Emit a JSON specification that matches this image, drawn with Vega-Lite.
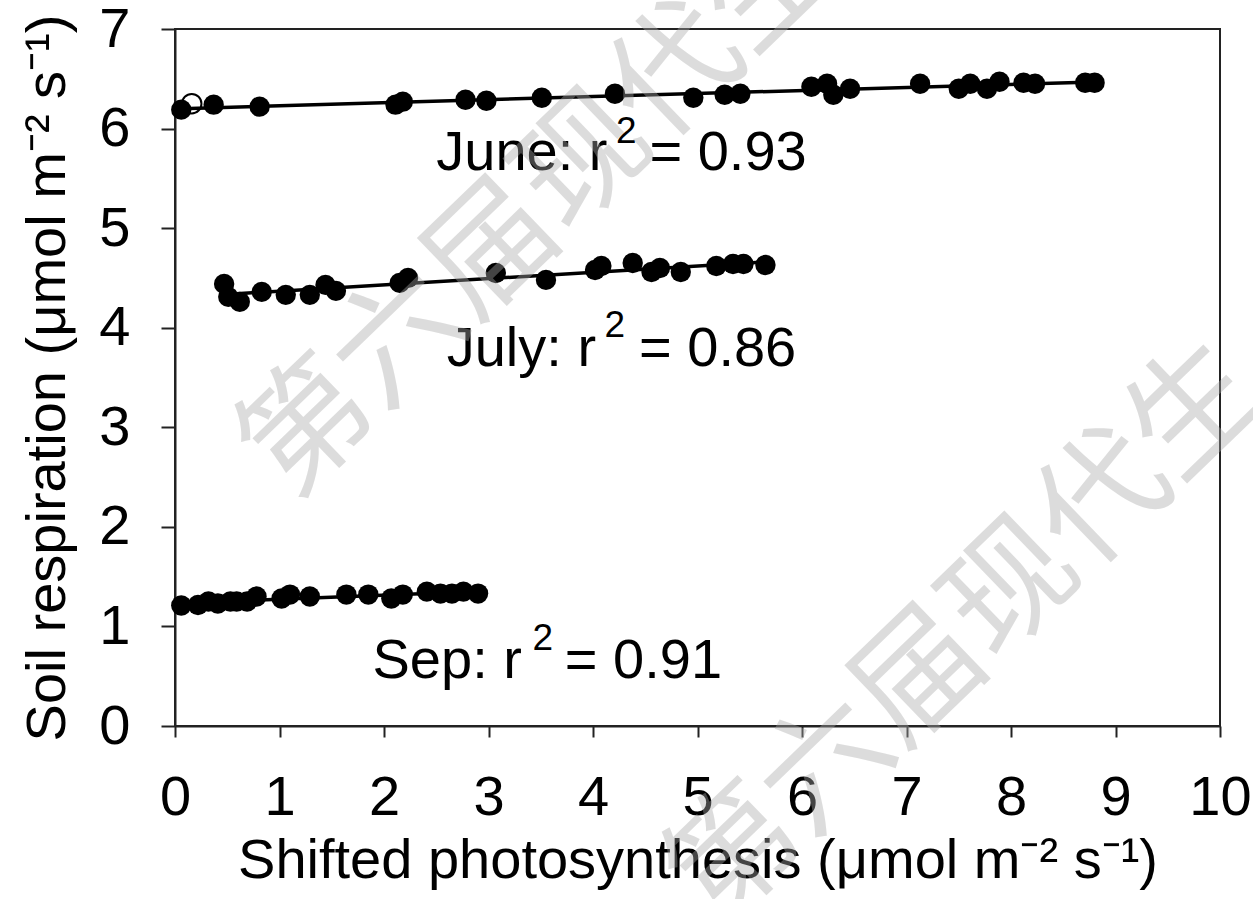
{
  "$schema": "https://vega.github.io/schema/vega-lite/v6.json",
  "width": 1045,
  "height": 697,
  "autosize": {"type": "none"},
  "padding": {"left": 175, "top": 29, "right": 33, "bottom": 173},
  "background": "white",
  "config": {
    "view": {"stroke": "#222", "strokeWidth": 2},
    "font": "Liberation Sans",
    "axis": {
      "grid": false,
      "domainColor": "#222",
      "domainWidth": 2,
      "tickColor": "#222",
      "tickWidth": 2,
      "labelColor": "black",
      "titleColor": "black",
      "labelFont": "Liberation Sans",
      "titleFont": "Liberation Sans",
      "labelFontSize": 56,
      "titleFontSize": 56,
      "titleFontWeight": "normal"
    }
  },
  "datasets": {
    "points": [
      {"month": "June", "x": 0.06, "y": 6.19},
      {"month": "June", "x": 0.37, "y": 6.24},
      {"month": "June", "x": 0.81, "y": 6.22},
      {"month": "June", "x": 2.11, "y": 6.24},
      {"month": "June", "x": 2.18, "y": 6.27},
      {"month": "June", "x": 2.78, "y": 6.29},
      {"month": "June", "x": 2.98, "y": 6.28},
      {"month": "June", "x": 3.51, "y": 6.31},
      {"month": "June", "x": 4.21, "y": 6.35},
      {"month": "June", "x": 4.96, "y": 6.31},
      {"month": "June", "x": 5.26, "y": 6.34},
      {"month": "June", "x": 5.41, "y": 6.35},
      {"month": "June", "x": 6.09, "y": 6.42},
      {"month": "June", "x": 6.24, "y": 6.45},
      {"month": "June", "x": 6.30, "y": 6.34},
      {"month": "June", "x": 6.46, "y": 6.40},
      {"month": "June", "x": 7.13, "y": 6.45},
      {"month": "June", "x": 7.50, "y": 6.40},
      {"month": "June", "x": 7.61, "y": 6.45},
      {"month": "June", "x": 7.77, "y": 6.40},
      {"month": "June", "x": 7.89, "y": 6.47},
      {"month": "June", "x": 8.12, "y": 6.46},
      {"month": "June", "x": 8.23, "y": 6.45},
      {"month": "June", "x": 8.71, "y": 6.46},
      {"month": "June", "x": 8.80, "y": 6.46},
      {"month": "July", "x": 0.47, "y": 4.44},
      {"month": "July", "x": 0.51, "y": 4.31},
      {"month": "July", "x": 0.62, "y": 4.26},
      {"month": "July", "x": 0.83, "y": 4.36},
      {"month": "July", "x": 1.06, "y": 4.33},
      {"month": "July", "x": 1.29, "y": 4.33},
      {"month": "July", "x": 1.44, "y": 4.43},
      {"month": "July", "x": 1.54, "y": 4.37},
      {"month": "July", "x": 2.15, "y": 4.45},
      {"month": "July", "x": 2.23, "y": 4.50},
      {"month": "July", "x": 3.07, "y": 4.55},
      {"month": "July", "x": 3.55, "y": 4.48},
      {"month": "July", "x": 4.02, "y": 4.58},
      {"month": "July", "x": 4.08, "y": 4.62},
      {"month": "July", "x": 4.38, "y": 4.65},
      {"month": "July", "x": 4.56, "y": 4.56},
      {"month": "July", "x": 4.64, "y": 4.60},
      {"month": "July", "x": 4.84, "y": 4.56},
      {"month": "July", "x": 5.18, "y": 4.62},
      {"month": "July", "x": 5.34, "y": 4.64},
      {"month": "July", "x": 5.44, "y": 4.64},
      {"month": "July", "x": 5.65, "y": 4.63},
      {"month": "Sep", "x": 0.06, "y": 1.21},
      {"month": "Sep", "x": 0.22, "y": 1.215},
      {"month": "Sep", "x": 0.32, "y": 1.25},
      {"month": "Sep", "x": 0.41, "y": 1.23},
      {"month": "Sep", "x": 0.53, "y": 1.25},
      {"month": "Sep", "x": 0.59, "y": 1.25},
      {"month": "Sep", "x": 0.69, "y": 1.25},
      {"month": "Sep", "x": 0.78, "y": 1.30},
      {"month": "Sep", "x": 1.02, "y": 1.28},
      {"month": "Sep", "x": 1.10, "y": 1.32},
      {"month": "Sep", "x": 1.29, "y": 1.30},
      {"month": "Sep", "x": 1.64, "y": 1.32},
      {"month": "Sep", "x": 1.85, "y": 1.32},
      {"month": "Sep", "x": 2.07, "y": 1.28},
      {"month": "Sep", "x": 2.18, "y": 1.32},
      {"month": "Sep", "x": 2.41, "y": 1.35},
      {"month": "Sep", "x": 2.54, "y": 1.33},
      {"month": "Sep", "x": 2.65, "y": 1.33},
      {"month": "Sep", "x": 2.76, "y": 1.35},
      {"month": "Sep", "x": 2.90, "y": 1.33}
    ],
    "outliers": [
      {"month": "June", "x": 0.16, "y": 6.25}
    ],
    "labelMain": [
      {"x": 2.50, "y": 5.58, "text": "June: r"},
      {"x": 4.54, "y": 5.58, "text": "= 0.93"},
      {"x": 2.60, "y": 3.62, "text": "July: r"},
      {"x": 4.44, "y": 3.62, "text": "= 0.86"},
      {"x": 1.89, "y": 0.48, "text": "Sep: r"},
      {"x": 3.73, "y": 0.48, "text": "= 0.91"}
    ],
    "labelSup": [
      {"x": 4.22, "y": 5.86, "text": "2"},
      {"x": 4.11, "y": 3.91, "text": "2"},
      {"x": 3.42, "y": 0.76, "text": "2"}
    ],
    "watermark": [
      {"x": 3.49, "y": 5.21, "text": "第六届现代生"},
      {"x": 7.58, "y": 0.92, "text": "第六届现代生"}
    ]
  },
  "encoding": {
    "x": {
      "field": "x", "type": "quantitative",
      "scale": {"domain": [0, 10], "nice": false, "zero": false},
      "axis": {
        "title": "Shifted photosynthesis (μmol m⁻² s⁻¹)",
        "values": [0,1,2,3,4,5,6,7,8,9,10],
        "tickSize": 11,
        "labelPadding": 33,
        "titlePadding": 8,
        "labelFlush": false
      }
    },
    "y": {
      "field": "y", "type": "quantitative",
      "scale": {"domain": [0, 7], "nice": false},
      "axis": {
        "title": "Soil respiration (μmol m⁻² s⁻¹)",
        "values": [0,1,2,3,4,5,6,7],
        "tickSize": 14,
        "labelPadding": 31,
        "titlePadding": 22,
        "labelFlush": false
      }
    }
  },
  "layer": [
    {
      "data": {"name": "points"},
      "transform": [{"regression": "y", "on": "x", "groupby": ["month"]}],
      "mark": {"type": "line", "color": "black", "strokeWidth": 3.5},
      "encoding": {"detail": {"field": "month"}}
    },
    {
      "data": {"name": "outliers"},
      "mark": {"type": "point", "shape": "circle", "filled": false, "stroke": "black", "strokeWidth": 2, "size": 380, "opacity": 1}
    },
    {
      "data": {"name": "points"},
      "mark": {"type": "point", "shape": "circle", "filled": true, "color": "black", "size": 415, "opacity": 1}
    },
    {
      "data": {"name": "labelMain"},
      "mark": {"type": "text", "align": "left", "baseline": "alphabetic", "fontSize": 56, "font": "Liberation Sans", "color": "black"},
      "encoding": {"text": {"field": "text"}}
    },
    {
      "data": {"name": "labelSup"},
      "mark": {"type": "text", "align": "left", "baseline": "alphabetic", "fontSize": 37, "font": "Liberation Sans", "color": "black"},
      "encoding": {"text": {"field": "text"}}
    },
    {
      "data": {"name": "watermark"},
      "mark": {"type": "text", "align": "center", "baseline": "middle", "angle": -44, "fontSize": 128, "font": "Noto Sans CJK SC", "fontWeight": 400, "color": "#aaaaaa", "opacity": 0.4},
      "encoding": {"text": {"field": "text"}}
    }
  ]
}
